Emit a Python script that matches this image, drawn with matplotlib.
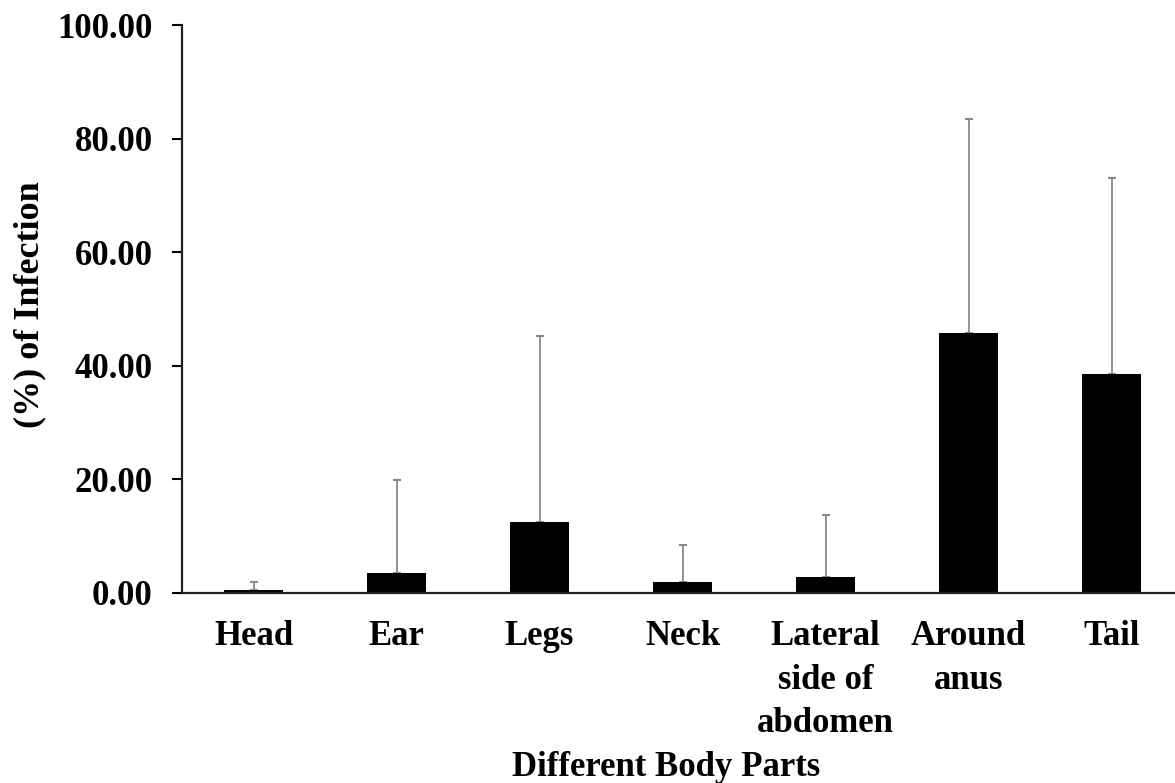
import matplotlib
matplotlib.use("Agg")
import matplotlib.pyplot as plt
import numpy as np

# Datos: porcentaje de infección por parte del cuerpo
partes = ["Head", "Ear", "Legs", "Neck", "Lateral\nside of\nabdomen", "Around\nanus", "Tail"]
media = [0.5, 3.4, 12.5, 1.9, 2.8, 45.7, 38.5]
limite_sup = [1.8, 19.8, 45.2, 8.4, 13.7, 83.5, 73.1]  # extremo superior de la barra de error
error = [s - m for s, m in zip(limite_sup, media)]
ticks_y = [0, 20, 40, 60, 80, 100]

plt.rcParams['font.family'] = ['Liberation Serif', 'DejaVu Serif']
plt.rcParams['font.weight'] = 'bold'

fig = plt.figure(figsize=(11.75, 7.83), dpi=100)
ax = fig.add_axes([182 / 1175, 1 - 592.7 / 783, 1001 / 1175, 567.7 / 783])

x = np.arange(len(partes))
ax.bar(x, media, width=0.41, color='black', zorder=2)
ax.errorbar(x, media, yerr=[np.zeros(len(error)), error], fmt='none',
            ecolor='#8a8a8a', elinewidth=1.3, capsize=3, capthick=1.5, zorder=1)

ax.set_xlim(-0.5, 6.5)
ax.set_ylim(0, 100)
ax.set_yticks(ticks_y)
ax.set_yticklabels([f"{v:.2f}" for v in ticks_y], fontsize=25, fontweight='bold')
ax.set_xticks(x)
ax.set_xticklabels(partes, fontsize=25, fontweight='bold', linespacing=1.42)

ax.tick_params(axis='y', direction='out', length=7, width=1.5, pad=14)
ax.tick_params(axis='x', length=0, pad=20)

for lado in ['top', 'right']:
    ax.spines[lado].set_visible(False)
ax.spines['left'].set_linewidth(1.6)
ax.spines['bottom'].set_linewidth(1.6)
ax.spines['left'].set_color('#222222')
ax.spines['bottom'].set_color('#222222')

ax.set_ylabel("(%) of Infection", fontsize=26, fontweight='bold')
ax.yaxis.set_label_coords(-136 / 1001, 0.507)
ax.set_xlabel("Different Body Parts", fontsize=25, fontweight='bold')
ax.xaxis.set_label_coords((666 - 182) / 1001, -158 / 567.7)

fig.savefig("out.png", dpi=100)
